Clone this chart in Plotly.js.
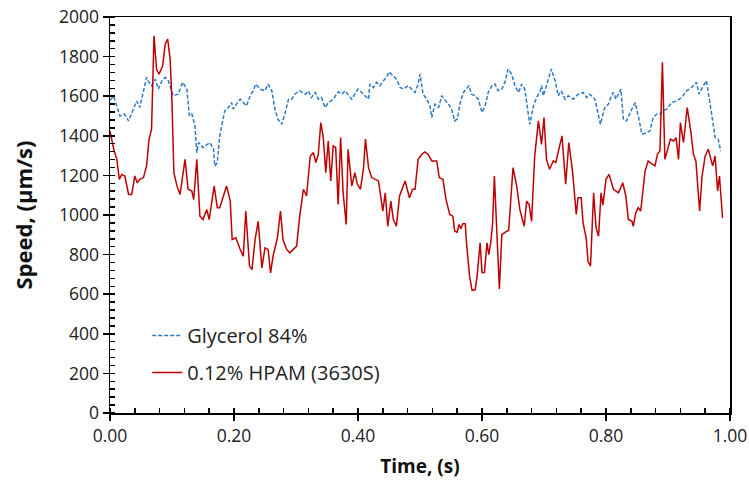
<!DOCTYPE html>
<html>
<head>
<meta charset="utf-8">
<script src="https://cdn.plot.ly/plotly-3.0.1.min.js"></script>
<style>html,body{margin:0;padding:0;background:#fff;}#chart{width:749px;height:489px;}</style>
</head>
<body>
<div id="chart"></div>
<script>
const glycerolTime = [0.000,0.006,0.016,0.023,0.030,0.037,0.043,0.048,0.059,0.063,0.067,0.073,0.078,0.084,0.089,0.094,0.102,0.110,0.117,0.124,0.128,0.132,0.137,0.140,0.143,0.150,0.156,0.161,0.167,0.169,0.173,0.177,0.185,0.191,0.196,0.199,0.204,0.210,0.215,0.220,0.226,0.231,0.235,0.242,0.250,0.255,0.261,0.266,0.271,0.277,0.282,0.288,0.293,0.298,0.306,0.315,0.320,0.325,0.331,0.336,0.341,0.347,0.352,0.360,0.368,0.374,0.379,0.384,0.390,0.395,0.400,0.406,0.411,0.417,0.419,0.425,0.430,0.435,0.441,0.446,0.450,0.457,0.462,0.468,0.473,0.481,0.484,0.492,0.497,0.500,0.505,0.511,0.516,0.519,0.524,0.530,0.535,0.540,0.546,0.551,0.556,0.560,0.565,0.570,0.575,0.579,0.583,0.589,0.594,0.600,0.605,0.610,0.616,0.621,0.626,0.632,0.637,0.642,0.648,0.653,0.659,0.664,0.669,0.675,0.677,0.683,0.688,0.694,0.696,0.699,0.704,0.712,0.718,0.723,0.728,0.734,0.739,0.747,0.755,0.763,0.769,0.774,0.782,0.788,0.791,0.798,0.804,0.809,0.812,0.816,0.820,0.824,0.828,0.833,0.839,0.847,0.852,0.858,0.866,0.871,0.876,0.882,0.887,0.892,0.898,0.906,0.914,0.922,0.930,0.938,0.946,0.950,0.957,0.962,0.970,0.976,0.981,0.985];
const glycerolSpeed = [1580,1600,1500,1510,1475,1530,1576,1543,1695,1670,1653,1686,1636,1680,1695,1678,1602,1610,1670,1636,1500,1510,1450,1315,1366,1340,1355,1366,1332,1247,1264,1400,1526,1543,1568,1535,1560,1585,1568,1551,1602,1627,1661,1636,1627,1661,1627,1535,1484,1458,1510,1585,1585,1610,1627,1610,1627,1593,1619,1585,1593,1543,1568,1585,1622,1610,1627,1610,1585,1610,1636,1619,1602,1585,1661,1644,1670,1653,1678,1695,1723,1703,1686,1644,1636,1653,1644,1619,1661,1711,1610,1585,1551,1492,1560,1543,1602,1585,1560,1535,1475,1484,1568,1619,1636,1653,1610,1602,1585,1518,1551,1619,1653,1661,1627,1636,1670,1737,1711,1653,1619,1661,1636,1484,1458,1551,1593,1627,1653,1602,1653,1737,1678,1602,1627,1585,1602,1585,1610,1619,1593,1610,1585,1501,1458,1543,1560,1602,1619,1585,1610,1636,1484,1475,1518,1568,1501,1408,1416,1425,1492,1510,1510,1526,1535,1568,1576,1593,1627,1644,1670,1610,1653,1678,1518,1391,1383,1323];

const hpamTime = [0.000,0.006,0.011,0.015,0.019,0.024,0.030,0.035,0.040,0.044,0.048,0.054,0.059,0.063,0.067,0.071,0.075,0.079,0.085,0.089,0.093,0.097,0.100,0.103,0.108,0.113,0.121,0.126,0.132,0.135,0.140,0.145,0.150,0.156,0.160,0.168,0.173,0.177,0.188,0.194,0.197,0.203,0.210,0.215,0.219,0.225,0.229,0.234,0.239,0.245,0.250,0.255,0.259,0.263,0.270,0.275,0.279,0.285,0.290,0.296,0.301,0.306,0.312,0.317,0.323,0.328,0.332,0.336,0.340,0.344,0.348,0.352,0.356,0.360,0.364,0.368,0.372,0.376,0.381,0.384,0.390,0.395,0.399,0.404,0.409,0.412,0.417,0.422,0.427,0.433,0.440,0.444,0.448,0.453,0.457,0.462,0.467,0.473,0.476,0.483,0.488,0.492,0.497,0.503,0.508,0.513,0.519,0.527,0.531,0.537,0.542,0.548,0.553,0.556,0.560,0.563,0.566,0.569,0.573,0.575,0.580,0.584,0.589,0.592,0.597,0.600,0.604,0.608,0.611,0.614,0.617,0.620,0.624,0.628,0.632,0.635,0.640,0.643,0.647,0.650,0.656,0.661,0.668,0.672,0.676,0.680,0.685,0.691,0.696,0.700,0.704,0.709,0.715,0.719,0.729,0.735,0.740,0.746,0.752,0.755,0.760,0.763,0.768,0.771,0.775,0.780,0.784,0.788,0.792,0.795,0.800,0.805,0.812,0.820,0.827,0.832,0.836,0.842,0.844,0.848,0.852,0.856,0.863,0.868,0.875,0.879,0.883,0.887,0.891,0.895,0.901,0.904,0.909,0.913,0.917,0.920,0.925,0.931,0.937,0.941,0.945,0.951,0.955,0.960,0.965,0.972,0.976,0.980,0.983,0.988];
const hpamSpeed = [1424,1332,1281,1180,1205,1197,1104,1104,1197,1163,1180,1189,1248,1383,1433,1905,1737,1711,1754,1863,1889,1787,1568,1214,1147,1104,1281,1130,1121,1078,1281,994,977,1028,977,1146,1037,1037,1146,1070,876,885,826,792,1020,742,724,876,968,733,834,826,707,792,885,1020,876,826,809,826,843,994,1130,1096,1298,1315,1265,1307,1467,1391,1214,1374,1172,1349,1341,1053,1391,1112,952,1332,1146,1214,1155,1130,1239,1383,1239,1189,1180,1172,1020,1112,943,1070,977,943,1096,1146,1172,1087,1130,1130,1281,1307,1319,1307,1273,1273,1189,1180,1078,1003,994,918,913,952,930,956,956,859,690,619,622,690,859,710,710,859,800,859,952,1197,909,626,901,909,918,922,1078,1239,1146,1028,943,1070,1053,968,1298,1475,1357,1492,1281,1231,1273,1265,1400,1155,1366,1222,1003,1087,1087,960,885,766,742,1112,935,893,1112,1050,1180,1205,1130,1112,1163,1096,977,968,943,1011,1037,1020,1222,1273,1256,1248,1307,1324,1771,1281,1349,1383,1374,1391,1281,1467,1366,1543,1416,1307,1273,1020,1197,1298,1332,1248,1298,1121,1197,985];

const seriesNames = ['Glycerol 84%', '0.12% HPAM (3630S)'];
const xTitle = 'Time, (s)';
const yTitle = 'Speed, (\u03bcm/s)';

const font = 'Open Sans, Noto Sans, sans-serif';

const traces = [
  {x: glycerolTime, y: glycerolSpeed, name: seriesNames[0], type: 'scatter', mode: 'lines',
   line: {color: '#2E7BC4', width: 1.5, dash: '4px,2px'}, legendgroup: 'a'},
  {x: hpamTime, y: hpamSpeed, name: seriesNames[1], type: 'scatter', mode: 'lines',
   line: {color: '#C00000', width: 1.5}, legendgroup: 'b'}
];

const axisCommon = {
  showline: true, linecolor: '#000', linewidth: 1.5, mirror: true,
  showgrid: false, zeroline: false,
  ticks: 'outside', ticklen: 6, tickwidth: 1.5, tickcolor: '#000',
  tickfont: {family: font, size: 17.5, color: '#222'}
};

const layout = {
  width: 749, height: 489,
  margin: {l: 110, r: 19, t: 17, b: 76},
  paper_bgcolor: '#fff', plot_bgcolor: '#fff',
  showlegend: true,
  legend: {x: 0.06, y: 0.245, xanchor: 'left', yanchor: 'top', bgcolor: 'rgba(0,0,0,0)',
           font: {family: font, size: 20, color: '#222'}, traceorder: 'grouped', tracegroupgap: 8},
  xaxis: Object.assign({}, axisCommon, {
    range: [0, 1], dtick: 0.2, tick0: 0, tickformat: '.2f',
    minor: {dtick: 0.04, ticks: 'inside', ticklen: 5, tickwidth: 1.5, tickcolor: '#000', showgrid: false},
    title: {text: '<b>' + xTitle + '</b>', font: {family: font, size: 19, color: '#111'}, standoff: 14}
  }),
  yaxis: Object.assign({}, axisCommon, {
    range: [0, 2000], dtick: 200, tick0: 0,
    minor: {dtick: 40, ticks: 'inside', ticklen: 5, tickwidth: 1.5, tickcolor: '#000', showgrid: false},
    title: {text: '<b>' + yTitle + '</b>', font: {family: font, size: 22, color: '#111'}, standoff: 20}
  })
};

Plotly.newPlot('chart', traces, layout, {displayModeBar: false, staticPlot: true});
</script>
</body>
</html>
